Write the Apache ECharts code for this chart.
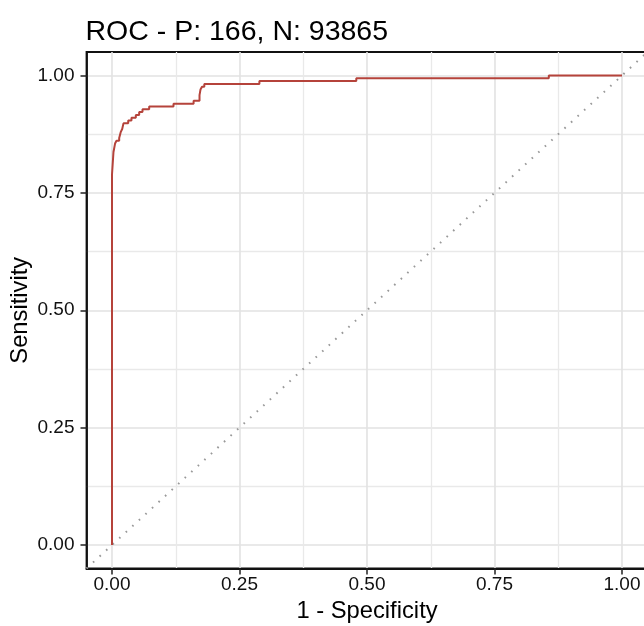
<!DOCTYPE html>
<html>
<head>
<meta charset="utf-8">
<script src="https://cdn.jsdelivr.net/npm/echarts@6/dist/echarts.min.js"></script>
<style>
html,body{margin:0;padding:0;background:#fff;}
#chart{width:644px;height:626px;}
</style>
</head>
<body>
<div id="chart"></div>
<script>
// ---- data ----
const titleText = 'ROC - P: 166, N: 93865';
const xAxisTitle = '1 - Specificity';
const yAxisTitle = 'Sensitivity';
const majorTicks = [0, 0.25, 0.5, 0.75, 1];
const minorTicks = [0.125, 0.375, 0.625, 0.875];
const axisMin = -0.05;
const axisMax = 1.05;
// ROC curve corner points (1 - specificity, sensitivity)
const fpr = [0, 0, 0.0029, 0.006, 0.0088, 0.0141, 0.0173, 0.0200, 0.0225, 0.0318, 0.0382, 0.0467, 0.0533, 0.0598, 0.0729, 0.1206, 0.1600, 0.1716, 0.1735, 0.1765, 0.181, 0.289, 0.479, 0.8565, 1.0];
const tpr = [0, 0.789, 0.837, 0.855, 0.861, 0.867, 0.880, 0.886, 0.898, 0.904, 0.910, 0.916, 0.922, 0.928, 0.934, 0.940, 0.946, 0.958, 0.970, 0.976, 0.982, 0.988, 0.994, 1.0, 1.0];
// reference diagonal (chance line)
const diagX = [-0.05, 1.05];
const diagY = [-0.05, 1.05];

const FONT = 'Liberation Sans, Arial, sans-serif';
const rocData = fpr.map((v, i) => [v, tpr[i]]);
const diagData = diagX.map((v, i) => [v, diagY[i]]);

function mainAxis(extra) {
  return Object.assign({
    type: 'value',
    min: axisMin,
    max: axisMax,
    gridIndex: 0,
    nameMoveOverlap: false,
    axisLine: { show: true, onZero: false, lineStyle: { color: '#111', width: 1.8 } },
    axisTick: { show: true, customValues: majorTicks, length: 6, lineStyle: { color: '#222', width: 1.5 } },
    splitLine: { show: true, lineStyle: { color: '#e2e2e2', width: 1.6 } },
    minorSplitLine: { show: false },
    nameTextStyle: { color: '#000', fontSize: 23.75, fontFamily: FONT }
  }, extra);
}
function minorAxis(extra) {
  return Object.assign({
    type: 'value',
    min: axisMin,
    max: axisMax,
    gridIndex: 0,
    axisLine: { show: false, onZero: false },
    axisTick: { show: false, customValues: minorTicks },
    axisLabel: { show: false, customValues: minorTicks },
    splitLine: { show: true, lineStyle: { color: '#e9e9e9', width: 1.3 } }
  }, extra);
}

const chart = echarts.init(document.getElementById('chart'), null, { renderer: 'canvas' });
chart.setOption({
  animation: false,
  backgroundColor: '#fff',
  title: {
    text: titleText, left: 85.5, top: 18, padding: 0,
    textStyle: { color: '#000', fontSize: 28.5, fontWeight: 'normal', fontFamily: FONT }
  },
  grid: {
    left: 86.5, top: 52, width: 561, height: 516.5,
    containLabel: false, outerBoundsMode: 'none',
    show: true, borderColor: '#111', borderWidth: 1.8, backgroundColor: '#fff'
  },
  xAxis: [
    mainAxis({ position: 'bottom', name: xAxisTitle, nameLocation: 'middle', nameGap: 31,
      axisLabel: { customValues: majorTicks, formatter: v => Number(v).toFixed(2), color: '#111', fontSize: 19, fontFamily: FONT, margin: 7 } }),
    minorAxis({ position: 'bottom' })
  ],
  yAxis: [
    mainAxis({ position: 'left', name: yAxisTitle, nameLocation: 'middle', nameGap: 54,
      axisLabel: { customValues: majorTicks, formatter: v => Number(v).toFixed(2), color: '#111', fontSize: 19, fontFamily: FONT, margin: 12 } }),
    minorAxis({ position: 'left' })
  ],
  series: [
    {
      type: 'line', xAxisIndex: 0, yAxisIndex: 0, data: diagData,
      showSymbol: false, silent: true, z: 2,
      lineStyle: { color: '#999', width: 2, type: [1.6, 7.3] }
    },
    {
      type: 'line', xAxisIndex: 0, yAxisIndex: 0, data: rocData,
      step: 'end', showSymbol: false, z: 3,
      lineStyle: { color: '#b5433b', width: 2 }
    }
  ]
});
</script>
</body>
</html>
